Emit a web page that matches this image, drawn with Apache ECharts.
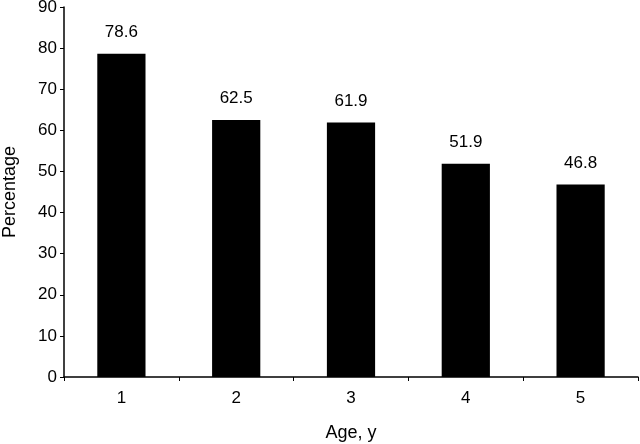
<!DOCTYPE html>
<html><head><meta charset="utf-8">
<script src="https://cdn.jsdelivr.net/npm/echarts@6/dist/echarts.min.js"></script>
<style>html,body{margin:0;padding:0;background:#fff}#c{width:640px;height:444px}</style>
</head><body><div id="c"></div>
<script>
const categories = ['1','2','3','4','5'];
const values = [78.6, 62.5, 61.9, 51.9, 46.8];
const yTicks = [0,10,20,30,40,50,60,70,80,90];
const font = '"Liberation Sans", Arial, Helvetica, sans-serif';
const chart = echarts.init(document.getElementById('c'), null, {renderer:'canvas'});
chart.setOption({
  animation:false,
  backgroundColor:'#fff',
  grid:{left:64,right:2,top:7,bottom:67,containLabel:false,outerBoundsMode:'none'},
  xAxis:{
    type:'category', data:categories,
    name:'Age, y', nameLocation:'middle', nameGap:47,
    nameTextStyle:{fontFamily:font,fontSize:18,color:'#000'},
    axisLine:{lineStyle:{color:'#000',width:1.5}},
    axisTick:{show:true,alignWithLabel:false,length:4,lineStyle:{color:'#000'}},
    axisLabel:{fontFamily:font,fontSize:17,color:'#000',margin:13}
  },
  yAxis:{
    type:'value', min:0, max:90, interval:10,
    name:'Percentage', nameLocation:'middle', nameGap:45,
    nameTextStyle:{fontFamily:font,fontSize:18,color:'#000'},
    axisLine:{show:true,lineStyle:{color:'#000',width:1.5}},
    axisTick:{show:true,length:4,lineStyle:{color:'#000'}},
    axisLabel:{fontFamily:font,fontSize:17,color:'#000',margin:7,
      formatter:v=>yTicks.includes(v)?String(v):''},
    splitLine:{show:false}
  },
  series:[{
    type:'bar', data:values, barWidth:'42%',
    itemStyle:{color:'#000'},
    label:{show:true,position:'top',distance:13,fontFamily:font,fontSize:17,color:'#000',formatter:p=>p.value.toFixed(1)}
  }]
});
</script></body></html>
